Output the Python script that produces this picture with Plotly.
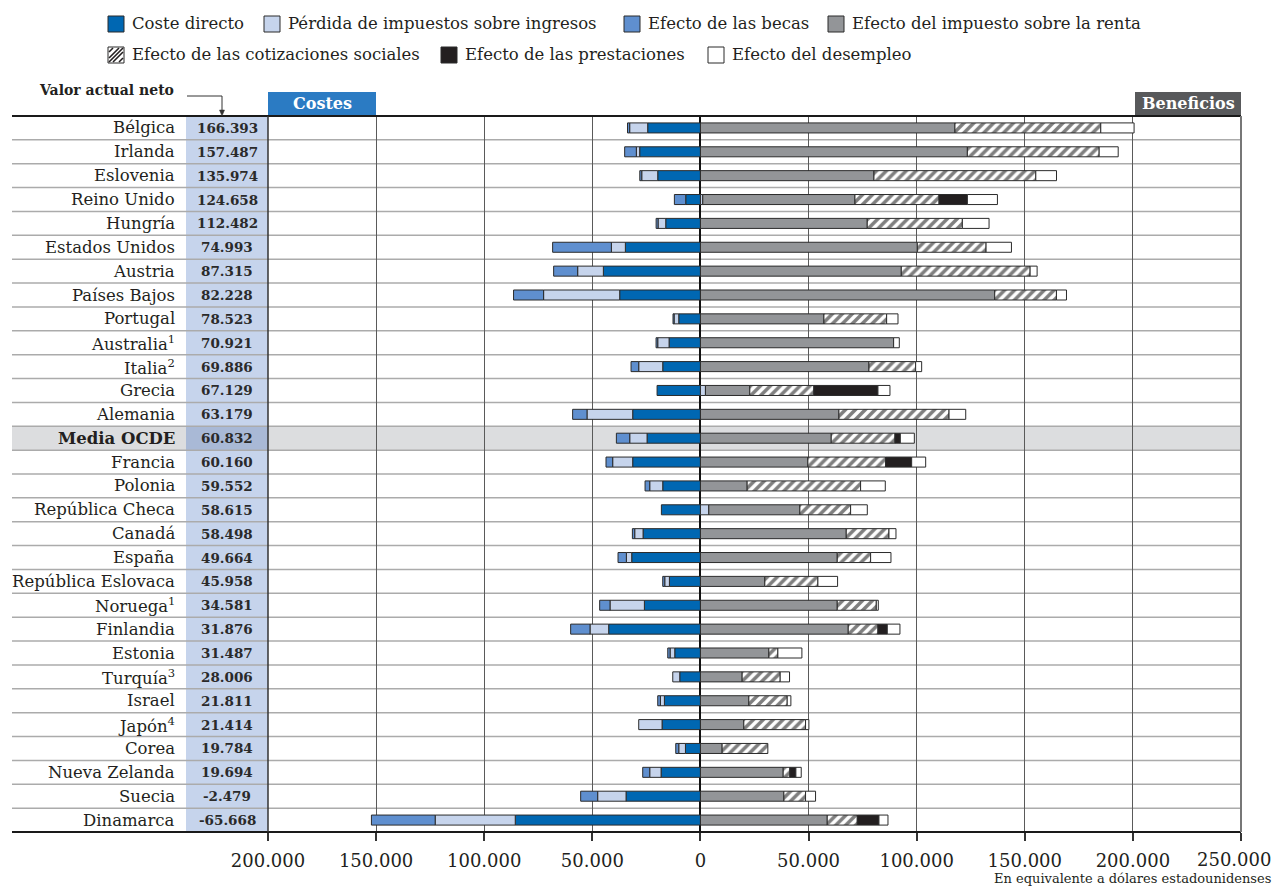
import plotly.graph_objects as go

# ---------------- data ----------------
countries = ["Bélgica", "Irlanda", "Eslovenia", "Reino Unido", "Hungría", "Estados Unidos",
             "Austria", "Países Bajos", "Portugal", "Australia<sup>1</sup>", "Italia<sup>2</sup>",
             "Grecia", "Alemania", "<b>Media OCDE</b>", "Francia", "Polonia", "República Checa",
             "Canadá", "España", "República Eslovaca", "Noruega<sup>1</sup>", "Finlandia",
             "Estonia", "Turquía<sup>3</sup>", "Israel", "Japón<sup>4</sup>", "Corea",
             "Nueva Zelanda", "Suecia", "Dinamarca"]

net_value = [166393, 157487, 135974, 124658, 112482, 74993, 87315, 82228, 78523, 70921,
             69886, 67129, 63179, 60832, 60160, 59552, 58615, 58498, 49664, 45958,
             34581, 31876, 31487, 28006, 21811, 21414, 19784, 19694, -2479, -65668]

coste_directo = [-24400, -28100, -19750, -6800, -16050, -34720, -44900, -37350, -10030, -14510,
                 -17440, -20060, -31330, -24690, -31330, -17440, -18060, -26540, -31790, -14350,
                 -25930, -42440, -11880, -9570, -16670, -17750, -6940, -18210, -34410, -85650]

perdida_impuestos = [-8330, -1550, -7400, 1080, -3550, -6480, -11880, -35190, -2160, -5250,
                     -11110, 2310, -21140, -8020, -9260, -6020, 3860, -3860, -2470, -2160,
                     -15900, -8640, -2160, -3240, -1850, -10800, -3090, -5250, -13120, -37040]

becas = [-1000, -5400, -900, -5250, -900, -27160, -11110, -13890, -500, -770,
         -3550, 0, -6640, -6170, -3090, -2160, 0, -1080, -3860, -930,
         -4780, -8950, -1080, 0, -1230, 0, -1390, -3240, -7870, -29480]

impuesto_renta = [117700, 123450, 80250, 70370, 77150, 100300, 92900, 136100, 57100, 89350,
                  77930, 20520, 64040, 60490, 49690, 21600, 42130, 67440, 63270, 29780,
                  63270, 68360, 31640, 19290, 22380, 20060, 10030, 38270, 38580, 58640]

cotizaciones = [67450, 60950, 74850, 38900, 43980, 31800, 59570, 28550, 29010, 0,
                21600, 29630, 50930, 29480, 35960, 52470, 23460, 19750, 15430, 24540,
                18060, 13730, 4170, 17590, 17750, 28550, 21140, 3090, 10030, 13890]

prestaciones = [0, 0, 0, 13100, 0, 0, 0, 0, 0, 0,
                0, 29630, 0, 2470, 12040, 0, 0, 0, 0, 0,
                0, 4320, 0, 0, 0, 0, 0, 2780, 0, 10030]

desempleo = [15400, 8800, 9570, 13900, 12350, 11730, 3240, 4630, 5250, 2620,
             2780, 5560, 7720, 6480, 6480, 11420, 7720, 3240, 9410, 9110,
             930, 5860, 11110, 4320, 1700, 1540, 0, 2470, 4630, 4170]

tick_vals = [-200000, -150000, -100000, -50000, 0, 50000, 100000, 150000, 200000, 250000]
tick_text = ["200.000", "150.000", "100.000", "50.000", "0", "50.000",
             "100.000", "150.000", "200.000", "250.000"]

series_names = ["Coste directo", "Pérdida de impuestos sobre ingresos", "Efecto de las becas",
                "Efecto del impuesto sobre la renta", "Efecto de las cotizaciones sociales",
                "Efecto de las prestaciones", "Efecto del desempleo"]

# ---------------- style ----------------
C_DIRECT = "#0067b2"
C_LOST = "#c6d4ec"
C_GRANT = "#5f8fcf"
C_TAX = "#939598"
C_BLACK = "#231f20"
C_WHITE = "#ffffff"
OUTLINE = "#2b2b2b"
SERIF = "DejaVu Serif"
TICK_SIZE = 18

# the page body has an 8px margin on every side; the figure is fitted inside it
PAGE_OFF = 8
W, H = 1282 - 2 * PAGE_OFF, 888 - PAGE_OFF
PLOT_L, PLOT_R, PLOT_T, PLOT_B = 268, 1241, 116, 832   # page pixel positions of plot area
ML, MR = PLOT_L - PAGE_OFF, (PAGE_OFF + W) - PLOT_R
MT, MB = PLOT_T - PAGE_OFF, 888 - PLOT_B
PW, PH = PLOT_R - PLOT_L, PLOT_B - PLOT_T


def px(x):
    return (x - PLOT_L) / PW


def py(y):
    return (PLOT_B - y) / PH


def nz(vals):
    return [v if v != 0 else None for v in vals]


def fmt(v):
    s = f"{abs(v):,}".replace(",", ".")
    return ("-" if v < 0 else "") + s


n = len(countries)
ys = list(range(n))

fig = go.Figure()
series = [
    (coste_directo, dict(color=C_DIRECT)),
    (perdida_impuestos, dict(color=C_LOST)),
    (becas, dict(color=C_GRANT)),
    (impuesto_renta, dict(color=C_TAX)),
    (cotizaciones, dict(color=C_WHITE,
                        pattern=dict(shape="/", fgcolor="#000000", bgcolor=C_WHITE,
                                     size=7, solidity=0.5))),
    (prestaciones, dict(color=C_BLACK)),
    (desempleo, dict(color=C_WHITE)),
]
for name, (vals, mk) in zip(series_names, series):
    mk = dict(mk)
    mk["line"] = dict(color=OUTLINE, width=1)
    fig.add_trace(go.Bar(
        y=ys, x=nz(vals), orientation="h", name=name, marker=mk,
        width=0.42, showlegend=False,
        hovertemplate="%{x}<extra>" + name + "</extra>"))

shapes = []
annotations = []

# Media OCDE background row
media_idx = 13
shapes.append(dict(type="rect", xref="paper", yref="y", x0=px(12), x1=1,
                   y0=media_idx - 0.5, y1=media_idx + 0.5, fillcolor="#dcdddf",
                   line_width=0, layer="below"))
# value column
shapes.append(dict(type="rect", xref="paper", yref="paper", x0=px(186), x1=0,
                   y0=0, y1=1, fillcolor=C_LOST, line_width=0, layer="below"))
shapes.append(dict(type="rect", xref="paper", yref="y", x0=px(186), x1=0,
                   y0=media_idx - 0.5, y1=media_idx + 0.5, fillcolor="#a9b9d6",
                   line_width=0, layer="below"))
# row separators
for i in range(n - 1):
    shapes.append(dict(type="line", xref="paper", yref="y", x0=px(12), x1=1,
                       y0=i + 0.5, y1=i + 0.5, line=dict(color="#ababab", width=1.5),
                       layer="below"))
# top and bottom rules
shapes.append(dict(type="line", xref="paper", yref="paper", x0=px(12), x1=1, y0=1, y1=1,
                   line=dict(color="#1a1a1a", width=2)))
shapes.append(dict(type="line", xref="paper", yref="paper", x0=px(12), x1=1, y0=0, y1=0,
                   line=dict(color="#1a1a1a", width=2)))
# left edge of plot area
shapes.append(dict(type="line", xref="paper", yref="paper", x0=0, x1=0, y0=0, y1=1,
                   line=dict(color="#333333", width=1.5)))
# right edge
shapes.append(dict(type="line", xref="paper", yref="paper", x0=1, x1=1, y0=0, y1=1,
                   line=dict(color="#777777", width=2)))

# country labels and values
for i, (c, v) in enumerate(zip(countries, net_value)):
    annotations.append(dict(xref="paper", yref="y", x=px(177), y=i, text=c,
                            xanchor="right", yanchor="middle", showarrow=False,
                            font=dict(family=SERIF, size=16.5, color=C_BLACK)))
    annotations.append(dict(xref="paper", yref="y", x=px(227), y=i, text="<b>" + fmt(v) + "</b>",
                            xanchor="center", yanchor="middle", showarrow=False,
                            font=dict(family=SERIF, size=13.5, color="#2a2a2a")))

# header boxes
shapes.append(dict(type="rect", xref="paper", yref="paper", x0=px(268), x1=px(376),
                   y0=py(115), y1=py(92), fillcolor="#2b7bc3", line_width=0))
annotations.append(dict(xref="paper", yref="paper", x=px(322), y=py(103.5), text="<b>Costes</b>",
                        showarrow=False, xanchor="center", yanchor="middle",
                        font=dict(family=SERIF, size=16, color="white")))
shapes.append(dict(type="rect", xref="paper", yref="paper", x0=px(1135), x1=px(1241),
                   y0=py(115), y1=py(92), fillcolor="#58595b", line_width=0))
annotations.append(dict(xref="paper", yref="paper", x=px(1188), y=py(103.5), text="<b>Beneficios</b>",
                        showarrow=False, xanchor="center", yanchor="middle",
                        font=dict(family=SERIF, size=16, color="white")))

# "Valor actual neto" label with connector
annotations.append(dict(xref="paper", yref="paper", x=px(176), y=py(90), text="<b>Valor actual neto</b>",
                        showarrow=False, xanchor="right", yanchor="middle",
                        font=dict(family=SERIF, size=14, color=C_BLACK)))
shapes.append(dict(type="path", xref="paper", yref="paper",
                   path=f"M {px(187)},{py(96)} L {px(222)},{py(96)} L {px(222)},{py(111)}",
                   line=dict(color="#333333", width=1)))
shapes.append(dict(type="path", xref="paper", yref="paper",
                   path=f"M {px(219.5)},{py(110)} L {px(224.5)},{py(110)} L {px(222)},{py(116)} Z",
                   fillcolor="#333333", line=dict(color="#333333", width=0.5)))

# manual legend
legend_items = [
    (108, 24, C_DIRECT, False), (264, 24, C_LOST, False), (624, 24, C_GRANT, False),
    (828, 24, C_TAX, False), (108, 55, C_WHITE, True), (441, 55, C_BLACK, False),
    (708, 55, C_WHITE, False),
]
for (lx, ly, col, hatch), name in zip(legend_items, series_names):
    x0, x1, y0, y1 = lx, lx + 16, ly - 8, ly + 8
    shapes.append(dict(type="rect", xref="paper", yref="paper", x0=px(x0), x1=px(x1),
                       y0=py(y1), y1=py(y0), fillcolor=col, line=dict(color=OUTLINE, width=1)))
    if hatch:
        segs = [((x0 + 1, y0 + 5), (x0 + 5, y0 + 1)), ((x0 + 1, y0 + 11), (x0 + 11, y0 + 1)),
                ((x0 + 1, y1 - 1), (x1 - 1, y0 + 1)), ((x0 + 5, y1 - 1), (x1 - 1, y0 + 5)),
                ((x0 + 11, y1 - 1), (x1 - 1, y0 + 11))]
        for (a, b) in segs:
            shapes.append(dict(type="line", xref="paper", yref="paper",
                               x0=px(a[0]), y0=py(a[1]), x1=px(b[0]), y1=py(b[1]),
                               line=dict(color=C_BLACK, width=1.6)))
    annotations.append(dict(xref="paper", yref="paper", x=px(lx + 22), y=py(ly), text=name,
                            showarrow=False, xanchor="left", yanchor="middle",
                            font=dict(family=SERIF, size=16.5, color=C_BLACK)))

# the last tick label would overflow the figure edge and be hidden by Plotly,
# so it is drawn as right-aligned text just inside the edge instead
tick_text_axis = tick_text[:-1] + [""]
annotations.append(dict(xref="paper", yref="paper", x=px(PAGE_OFF + W - 1), y=py(860),
                        text=tick_text[-1], showarrow=False, xanchor="right", yanchor="middle",
                        font=dict(family=SERIF, size=TICK_SIZE, color=C_BLACK)))

# axis note
annotations.append(dict(xref="paper", yref="paper", x=px(PAGE_OFF + W - 1), y=py(879),
                        text="En equivalente a dólares estadounidenses", showarrow=False,
                        xanchor="right", yanchor="middle",
                        font=dict(family=SERIF, size=13, color=C_BLACK)))

fig.update_layout(
    width=W, height=H, margin=dict(l=ML, r=MR, t=MT, b=MB),
    barmode="relative", plot_bgcolor="rgba(0,0,0,0)", paper_bgcolor="white",
    shapes=shapes, annotations=annotations,
    font=dict(family=SERIF, color=C_BLACK),
    xaxis=dict(range=[-200000, 250000], tickvals=tick_vals, ticktext=tick_text_axis,
               showgrid=True, gridcolor="#5a5a5a", gridwidth=1,
               zeroline=True, zerolinecolor="#111111", zerolinewidth=2,
               ticks="outside", ticklen=8, tickwidth=1.5, tickcolor="#333333",
               ticklabelstandoff=4,
               showline=False, tickfont=dict(family=SERIF, size=TICK_SIZE, color=C_BLACK),
               fixedrange=True),
    yaxis=dict(range=[n - 0.5, -0.5], showticklabels=False, showgrid=False,
               zeroline=False, fixedrange=True),
)

fig.write_html("out.html")
